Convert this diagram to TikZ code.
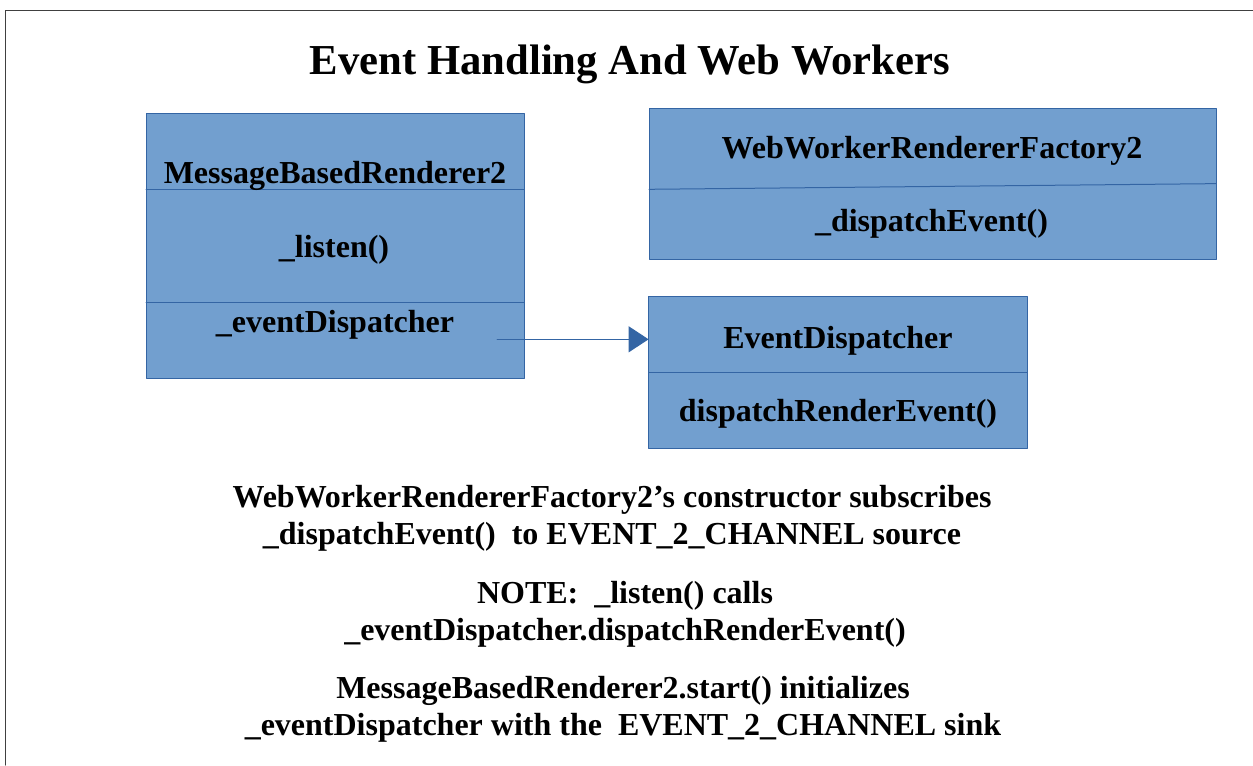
\documentclass[tikz,border=0pt]{standalone}
\usepackage{fontspec}
\setmainfont{Liberation Serif}
\usetikzlibrary{arrows.meta}
\definecolor{boxfill}{RGB}{114,159,207}
\definecolor{boxline}{RGB}{52,101,164}
\definecolor{framegray}{RGB}{64,64,64}
\tikzset{
	classbox/.style={draw=boxline, fill=boxfill, line width=0.75pt, inner sep=0pt, outer sep=0pt},
	classtext/.style={font=\fontsize{24}{27.75}\selectfont\bfseries, anchor=base, inner sep=0pt},
	notetext/.style={font=\fontsize{24}{27.75}\selectfont\bfseries, anchor=base, align=center, inner sep=0pt},
	divider/.style={boxline, line width=0.75pt}
}

\begin{document}
\begin{tikzpicture}[x=0.75pt, y=-0.75pt, line cap=round, line join=round]
	\useasboundingbox (0,0) rectangle (1253,765);
	% page frame
	\draw[framegray, line width=0.75pt] (5.5,765) -- (5.5,10) -- (1253,10);
	\node[font=\fontsize{32}{38}\selectfont\bfseries, anchor=base, inner sep=0pt] (title) at (630,74) {Event Handling And Web Workers};
	% MessageBasedRenderer2
	\node[classbox, minimum width=283.5pt, minimum height=198.75pt] (mbr) at (335,245.5) {};
	\draw[divider] ([yshift=-57.5pt]mbr.north west) -- ([yshift=-57.5pt]mbr.north east);
	\draw[divider] ([yshift=-142pt]mbr.north west) -- ([yshift=-142pt]mbr.north east);
	\node[classtext] (mbrname) at (335,183) {MessageBasedRenderer2};
	\node[classtext] (mbrlisten) at (334,257.5) {\_listen()};
	\node[classtext] (mbrdisp) at (335,332) {\_eventDispatcher};
	% WebWorkerRendererFactory2
	\node[classbox, minimum width=425.25pt, minimum height=113.25pt] (wwf) at (932.5,183.8) {};
	\draw[divider] ([yshift=-60.75pt]wwf.north west) -- ([yshift=-56.5pt]wwf.north east);
	\node[classtext] (wwfname) at (932,158.3) {WebWorkerRendererFactory2};
	\node[classtext] (wwfdisp) at (931.5,231.7) {\_dispatchEvent()};
	% EventDispatcher
	\node[classbox, minimum width=283.8pt, minimum height=113.7pt] (ed) at (837.8,372.5) {};
	\draw[divider] (ed.west) -- (ed.east);
	\node[classtext] (edname) at (838,348.3) {EventDispatcher};
	\node[classtext] (edrender) at (838,421.7) {dispatchRenderEvent()};
	% reference arrow
	\coordinate (dispsrc) at (497,339.3);
	\draw[boxline, line width=0.75pt, -{Triangle[length=15pt, width=19.5pt]}] (dispsrc) -- (dispsrc -| ed.west);
	% notes (base = last line)
	\node[notetext] (note1) at (612,544) {WebWorkerRendererFactory2’s constructor subscribes\\\_dispatchEvent()\ \ to EVENT\_2\_CHANNEL source};
	\node[notetext] (note2) at (625,640) {NOTE:\ \ \_listen() calls\\\_eventDispatcher.dispatchRenderEvent()};
	\node[notetext] (note3) at (623,735) {MessageBasedRenderer2.start() initializes\\\_eventDispatcher with the\ \ EVENT\_2\_CHANNEL sink};
\end{tikzpicture}
\end{document}
